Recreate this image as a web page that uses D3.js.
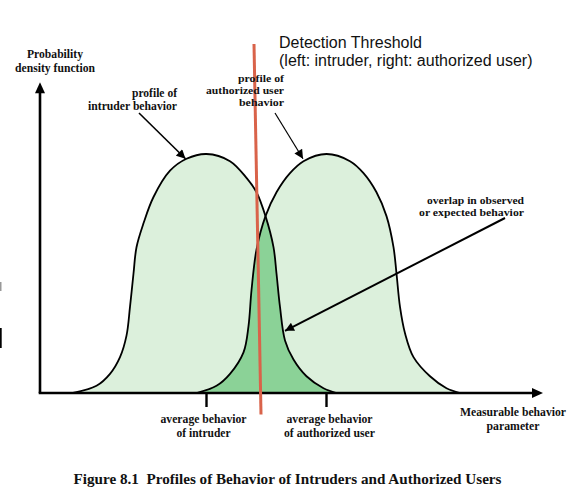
<!DOCTYPE html>
<html>
<head>
<meta charset="utf-8">
<script src="https://cdn.jsdelivr.net/npm/d3@7"></script>
<style>
  html, body { margin: 0; padding: 0; background: #fff; }
  svg { display: block; }
  .serif { font-family: "Liberation Serif", "Times New Roman", serif; font-weight: bold; fill: #111; }
  .sans { font-family: "Liberation Sans", Arial, sans-serif; }
</style>
</head>
<body>
<svg id="chart" width="574" height="494"></svg>
<script>
// ---- Data ----
// Measurable behavior parameter (x) and probability density (y, peak = 1)
const intruderX = [6.6, 11.3, 14, 16, 17.3, 18, 18.7, 19.3, 20.7, 22.7, 26, 29.3, 33.3, 38, 41.3, 43.3, 45.1, 46.7, 47.3, 48, 49, 50.7, 53.3, 56.7, 59.3];
const intruderY = [0, 0.03, 0.08, 0.15, 0.24, 0.36, 0.50, 0.61, 0.71, 0.82, 0.93, 0.98, 1.0, 0.97, 0.90, 0.84, 0.74, 0.61, 0.50, 0.36, 0.22, 0.14, 0.07, 0.02, 0];
const authorizedX = [31.3, 35.3, 38, 40.7, 41.7, 42.3, 43.3, 45.1, 47.3, 50, 52.7, 57.3, 62, 64.7, 67.3, 69.3, 70.7, 71.3, 72, 73, 74.7, 78, 81.3, 84];
const authorizedY = [0, 0.03, 0.08, 0.17, 0.28, 0.43, 0.60, 0.74, 0.84, 0.92, 0.97, 1.0, 0.97, 0.92, 0.84, 0.74, 0.61, 0.50, 0.36, 0.25, 0.15, 0.07, 0.02, 0];
const intruderMean = 33.3;
const authorizedMean = 57.3;
// Detection threshold line (slightly tilted in the original): x at top and bottom
const thresholdTop = { x: 42.8, y: 1.46 };
const thresholdBottom = { x: 44.2, y: -0.09 };

const yAxisLabel = ["Probability", "density function"];
const xAxisLabel = ["Measurable behavior", "parameter"];
const intruderLabel = ["profile of", "intruder behavior"];
const authorizedLabel = ["profile of", "authorized user", "behavior"];
const overlapLabel = ["overlap in observed", "or expected behavior"];
const meanLabels = [["average behavior", "of intruder"], ["average behavior", "of authorized user"]];
const thresholdLabel = ["Detection Threshold", "(left: intruder, right: authorized user)"];
const caption = "Figure 8.1  Profiles of Behavior of Intruders and Authorized Users";

// ---- Scales ----
const svg = d3.select("#chart");
const x = d3.scaleLinear().domain([0, 100]).range([40, 540]);
const y = d3.scaleLinear().domain([0, 1]).range([393, 154]);

const intruder = intruderX.map((v, i) => ({ x: v, y: intruderY[i] }));
const authorized = authorizedX.map((v, i) => ({ x: v, y: authorizedY[i] }));

const curve = d3.curveCatmullRom.alpha(0.5);
const area = d3.area().x(d => x(d.x)).y0(y(0)).y1(d => Math.min(y(0), y(d.y))).curve(curve);
const line = d3.line().x(d => x(d.x)).y(d => y(d.y)).curve(curve);

const defs = svg.append("defs");
defs.append("clipPath").attr("id", "authClip").append("path").attr("d", area(authorized));
defs.append("clipPath").attr("id", "aboveBase").append("rect")
  .attr("x", 0).attr("y", 0).attr("width", 574).attr("height", y(0));
defs.append("marker").attr("id", "arrowHead")
  .attr("viewBox", "0 0 10 10").attr("refX", 10).attr("refY", 5)
  .attr("markerWidth", 11).attr("markerHeight", 9).attr("markerUnits", "userSpaceOnUse")
  .attr("orient", "auto")
  .append("path").attr("d", "M0,0 L10,5 L0,10 Z").attr("fill", "#000");

const light = "#dcf0dc", dark = "#8bd297";

// Fills
const g = svg.append("g").attr("clip-path", "url(#aboveBase)");
g.append("path").attr("d", area(intruder)).attr("fill", light);
g.append("path").attr("d", area(authorized)).attr("fill", light);
g.append("path").attr("d", area(intruder)).attr("fill", dark).attr("clip-path", "url(#authClip)");

// Outlines
[intruder, authorized].forEach(s => {
  g.append("path").attr("d", line(s)).attr("fill", "none").attr("stroke", "#000").attr("stroke-width", 1.8);
});

// Axes with arrows
const x0 = x(0), yBase = y(0), yTop = y(1.3), xEnd = x(100.6);
svg.append("line").attr("x1", x0).attr("y1", yBase).attr("x2", x0).attr("y2", yTop + 8)
  .attr("stroke", "#000").attr("stroke-width", 2.6);
svg.append("path").attr("d", `M${x0},${yTop} L${x0 - 5},${yTop + 11} L${x0 + 5},${yTop + 11} Z`).attr("fill", "#000");
svg.append("line").attr("x1", x0 - 1.3).attr("y1", yBase).attr("x2", xEnd - 8).attr("y2", yBase)
  .attr("stroke", "#000").attr("stroke-width", 2.6);
svg.append("path").attr("d", `M${xEnd},${yBase} L${xEnd - 11},${yBase - 5} L${xEnd - 11},${yBase + 5} Z`).attr("fill", "#000");

// Mean ticks
[intruderMean, authorizedMean].forEach(m => {
  svg.append("line").attr("x1", x(m)).attr("x2", x(m)).attr("y1", yBase).attr("y2", yBase + 14)
    .attr("stroke", "#000").attr("stroke-width", 2.4);
});

// Threshold line
svg.append("line")
  .attr("x1", x(thresholdTop.x)).attr("y1", y(thresholdTop.y))
  .attr("x2", x(thresholdBottom.x)).attr("y2", y(thresholdBottom.y))
  .attr("stroke", "#d9634a").attr("stroke-width", 3);

// Pointer arrows
function pointer(x1, y1, x2, y2, w) {
  svg.append("line").attr("x1", x1).attr("y1", y1).attr("x2", x2).attr("y2", y2)
    .attr("stroke", "#000").attr("stroke-width", w).attr("marker-end", "url(#arrowHead)");
}
pointer(139, 113, x(29.1), y(0.98), 1.6);
pointer(275, 113, x(52.6), y(0.98), 1.2);
pointer(505, 218, x(49.0), y(0.26), 2);

// Text helpers (widths measured on the reference)
function lines(arr, widths, xPos, yStart, dy, anchor, cls, size) {
  const t = svg.append("text").attr("class", cls).attr("font-size", size).attr("text-anchor", anchor);
  arr.forEach((s, i) => {
    const ts = t.append("tspan").attr("x", xPos).attr("y", yStart + i * dy).text(s);
    if (widths) ts.attr("textLength", widths[i]).attr("lengthAdjust", "spacingAndGlyphs");
  });
  return t;
}
lines(yAxisLabel, [56, 80], 55, 58, 13.5, "middle", "serif", 12);
lines(intruderLabel, [45, 89], 177, 97, 12.5, "end", "serif", 11.5);
lines(authorizedLabel, [46, 78, 45], 284, 82, 12, "end", "serif", 10.5);
lines(overlapLabel, [97, 105], 524, 203.5, 12, "end", "serif", 10.5);
lines(meanLabels[0], [86, 54], x(intruderMean) - 3, 423, 13.5, "middle", "serif", 12);
lines(meanLabels[1], [86, 91], x(authorizedMean) + 3, 423, 13.5, "middle", "serif", 12);
lines(xAxisLabel, [106, 53], 513, 416, 14, "middle", "serif", 12);
lines(thresholdLabel, null, 279, 48, 18, "start", "sans", 16).attr("fill", "#111");
svg.append("text").attr("class", "serif").attr("font-size", 14.5).attr("x", 73.5).attr("y", 484)
  .attr("xml:space", "preserve").style("white-space", "pre")
  .attr("textLength", 428).attr("lengthAdjust", "spacingAndGlyphs").text(caption);

// Small scan artefacts on the left edge of the original
svg.append("rect").attr("x", 0).attr("y", 282).attr("width", 1.5).attr("height", 9).attr("fill", "#999");
svg.append("rect").attr("x", 0).attr("y", 328).attr("width", 1.7).attr("height", 20).attr("fill", "#000");
</script>
</body>
</html>
